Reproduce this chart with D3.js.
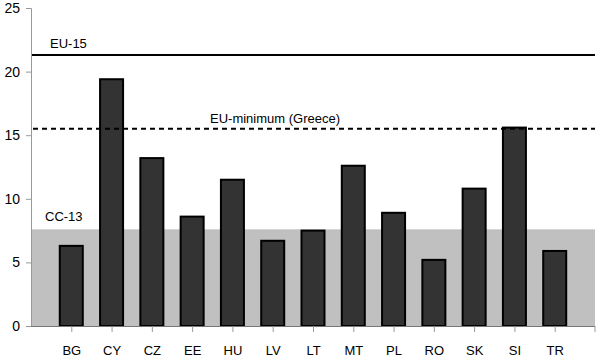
<!DOCTYPE html>
<html lang="en">
<head>
    <meta charset="UTF-8">
    <title>CC-13 compared with EU-15</title>
    <script src="https://d3js.org/d3.v7.min.js"></script>
    <style>
        body { margin: 0; background: #fff; }
        svg { font-family: Arial, "Liberation Sans", sans-serif; }
        .tick text { font-size: 13px; fill: #000; }
    </style>
</head>
<body>
    <svg id="chart" width="604" height="363"></svg>

    <script>
        const countries = ['BG', 'CY', 'CZ', 'EE', 'HU', 'LV', 'LT', 'MT', 'PL', 'RO', 'SK', 'SI', 'TR'];
        const values = [6.3, 19.4, 13.2, 8.6, 11.5, 6.7, 7.5, 12.6, 8.9, 5.2, 10.8, 15.6, 5.9];
        const yTicks = [0, 5, 10, 15, 20, 25];

        // reference levels
        const eu15 = 21.3;
        const euMin = 15.5;
        const cc13 = 7.6;

        const svg = d3.select("#chart");
        const margin = {top: 8, right: 9, bottom: 37, left: 31};
        const width = +svg.attr("width") - margin.left - margin.right;
        const height = +svg.attr("height") - margin.top - margin.bottom;
        const g = svg.append("g").attr("transform", `translate(${margin.left},${margin.top})`);

        // 14 slots across the axis, bars sit on the inner boundaries
        const step = width / 14;
        const x = d3.scalePoint()
            .domain(countries)
            .range([step, width - step]);

        const y = d3.scaleLinear()
            .domain([0, 25])
            .range([height, 0]);

        const barW = 23;

        // CC-13 shaded band
        g.append("rect")
            .attr("x", 0)
            .attr("y", y(cc13))
            .attr("width", width)
            .attr("height", y(0) - y(cc13))
            .attr("fill", "#c0c0c0");

        g.append("text")
            .attr("x", 14)
            .attr("y", y(cc13) - 8)
            .attr("font-size", 13)
            .text("CC-13");

        // bars
        g.selectAll(".bar")
            .data(countries)
            .enter().append("rect")
            .attr("class", "bar")
            .attr("x", (d) => x(d) - barW / 2)
            .attr("y", (d, i) => y(values[i]))
            .attr("width", barW)
            .attr("height", (d, i) => y(0) - y(values[i]))
            .attr("fill", "#333333")
            .attr("stroke", "#000")
            .attr("stroke-width", 2);

        // EU-15 line
        g.append("line")
            .attr("x1", 0).attr("x2", width)
            .attr("y1", y(eu15)).attr("y2", y(eu15))
            .attr("stroke", "#000")
            .attr("stroke-width", 2);

        g.append("text")
            .attr("x", 19)
            .attr("y", y(eu15) - 7)
            .attr("font-size", 13)
            .text("EU-15");

        // EU-minimum line
        g.append("line")
            .attr("x1", 2).attr("x2", width)
            .attr("y1", y(euMin)).attr("y2", y(euMin))
            .attr("stroke", "#000")
            .attr("stroke-width", 2)
            .attr("stroke-dasharray", "5,4");

        g.append("text")
            .attr("x", 179)
            .attr("y", y(euMin) - 6)
            .attr("font-size", 13)
            .text("EU-minimum (Greece)");

        // y axis
        const yAxis = g.append("g")
            .call(d3.axisLeft(y).tickValues(yTicks).tickSize(5).tickPadding(6));
        yAxis.select(".domain").attr("stroke", "#999");
        yAxis.selectAll(".tick line").attr("stroke", "#999");
        yAxis.selectAll(".tick text").style("font-size", "14px");

        // x axis
        const xAxis = g.append("g")
            .attr("transform", `translate(0,${height})`)
            .call(d3.axisBottom(x).tickSizeOuter(0).tickSize(6).tickPadding(14));
        xAxis.select(".domain").attr("stroke", "#777").attr("d", `M0,0.5H${width}`);
        xAxis.selectAll(".tick line").attr("stroke", "#999");

        // end tick at right edge
        xAxis.append("line")
            .attr("x1", width).attr("x2", width)
            .attr("y1", 0).attr("y2", 6)
            .attr("stroke", "#999");
    </script>
</body>
</html>
